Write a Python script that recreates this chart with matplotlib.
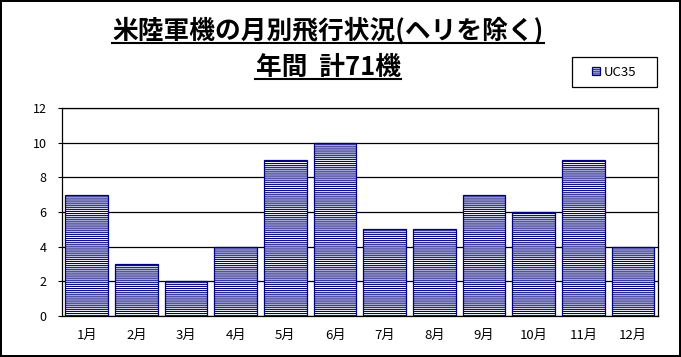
import matplotlib
matplotlib.use("Agg")
import matplotlib.pyplot as plt
from matplotlib.lines import Line2D
from matplotlib.patches import Rectangle
import numpy as np

plt.rcParams["font.family"] = ["Noto Sans CJK JP", "DejaVu Sans"]
plt.rcParams["hatch.linewidth"] = 0.8

# data
months = ["1月", "2月", "3月", "4月", "5月", "6月",
          "7月", "8月", "9月", "10月", "11月", "12月"]
uc35 = [7, 3, 2, 4, 9, 10, 5, 5, 7, 6, 9, 4]
series_name = "UC35"
title1 = "米陸軍機の月別飛行状況(ヘリを除く)"
title2 = "年間  計71機"

fig = plt.figure(figsize=(6.81, 3.57), dpi=100, linewidth=1.5, edgecolor="black")
ax = fig.add_axes([0.091, 0.115, 0.875, 0.582])

x = np.arange(len(months))
ax.bar(x, uc35, width=0.86, color="white", edgecolor="#000080",
       linewidth=0.9, hatch="--------", label=series_name, zorder=3)

ax.set_xlim(-0.5, len(months) - 0.5)
ax.set_ylim(0, 12)
ax.set_yticks(np.arange(0, 13, 2))
ax.set_xticks(x)
ax.set_xticklabels(months, fontsize=9.5)
ax.tick_params(axis="x", length=0, pad=9)
ax.tick_params(axis="y", labelsize=9, length=3, direction="out", pad=8)
ax.yaxis.grid(True, color="black", linewidth=0.9, zorder=0)
for s in ax.spines.values():
    s.set_color("black")
    s.set_linewidth(0.9)

# legend: box drawn separately so it can keep the reference width
fig.add_artist(Rectangle((572 / 681, 1 - 87 / 357), 85 / 681, 30 / 357,
                         transform=fig.transFigure, facecolor="white",
                         edgecolor="black", linewidth=0.9, zorder=-1))
leg = ax.legend(loc="center", bbox_to_anchor=(614 / 681, 1 - 72 / 357),
                bbox_transform=fig.transFigure, fontsize=9.5, frameon=False,
                handlelength=0.6, handleheight=0.6, handletextpad=0.3,
                borderpad=0, borderaxespad=0)

t1 = fig.text(328 / 681, 1 - 31 / 357, title1, ha="center", va="center",
              fontsize=18.5, fontweight="bold")
t2 = fig.text(328 / 681, 1 - 67 / 357, title2, ha="center", va="center",
              fontsize=18.5, fontweight="bold")

# underline the titles
fig.canvas.draw()
inv = fig.transFigure.inverted()
for t in (t1, t2):
    bb = t.get_window_extent()
    (x0, y0), (x1, _) = inv.transform([(bb.x0, bb.y0), (bb.x1, bb.y1)])
    fig.add_artist(Line2D([x0, x1], [y0 + 0.004, y0 + 0.004],
                          transform=fig.transFigure, color="black", linewidth=1.5))

plt.savefig("out.png", dpi=100)
